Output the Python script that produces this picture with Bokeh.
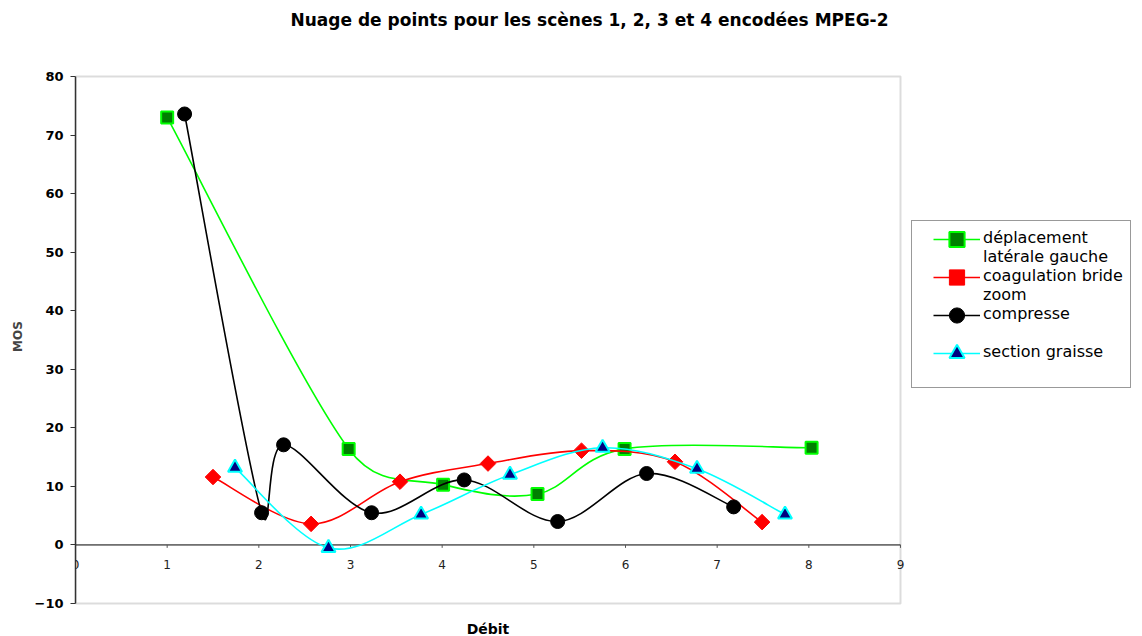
import numpy as np
from bokeh.plotting import figure
from bokeh.models import (Range1d, FixedTicker, Legend, LegendItem, ColumnDataSource,
                          LabelSet, Label, BoxAnnotation)
from bokeh.core.properties import value
from bokeh.embed import file_html
from bokeh.resources import INLINE

# ---------------- data ----------------
title_text = "Nuage de points pour les scènes 1, 2, 3 et 4 encodées MPEG-2"
x_label = "Débit"
y_label = "MOS"
x_ticks = [0, 1, 2, 3, 4, 5, 6, 7, 8, 9]
x_tick_labels = ["0", "1", "2", "3", "4", "5", "6", "7", "8", "9"]
y_ticks = [-10, 0, 10, 20, 30, 40, 50, 60, 70, 80]

green_name = ["déplacement", "latérale gauche"]
green_x = [1.00, 2.98, 4.01, 5.04, 5.99, 8.03]
green_y = [73.0, 16.4, 10.3, 8.7, 16.4, 16.6]

red_name = ["coagulation bride", "zoom"]
red_x = [1.50, 2.57, 3.54, 4.50, 5.52, 6.54, 7.49]
red_y = [11.6, 3.6, 10.8, 13.9, 16.1, 14.2, 3.9]

black_name = ["compresse", " "]
black_x = [1.19, 2.03, 2.27, 3.23, 4.24, 5.26, 6.23, 7.18]
black_y = [73.6, 5.5, 17.1, 5.5, 11.1, 4.0, 12.2, 6.5]

cyan_name = ["section graisse", " "]
cyan_x = [1.74, 2.76, 3.77, 4.74, 5.75, 6.78, 7.74]
cyan_y = [13.2, -0.5, 5.2, 12.0, 16.6, 13.0, 5.2]

# ---------------- layout (pixels) ----------------
W, H = 1142, 636
FRAME_T = 36                                         # top of the drawing frame
PLOT_L, PLOT_R, PLOT_T, PLOT_B = 75, 900, 76, 603   # plot-area box on the page
LEG_L, LEG_B = 911, 388                              # legend box left / bottom
SWATCH_L, SWATCH_W = 933, 47                         # legend line swatch
LABEL_L = 982                                        # legend text start
X0, X1 = x_ticks[0], x_ticks[-1]
Y0, Y1 = y_ticks[0], y_ticks[-1]
SX = (PLOT_R - PLOT_L) / (X1 - X0)   # px per x unit
SY = (PLOT_B - PLOT_T) / (Y1 - Y0)   # px per y unit
FONT = "DejaVu Sans"

p = figure(width=W, height=H, output_backend="svg", toolbar_location=None,
           x_axis_location=None,
           x_range=Range1d(X0, X1 + (W - PLOT_R) / SX),
           y_range=Range1d(Y0 - (H - PLOT_B) / SY, Y1 + (PLOT_T - FRAME_T) / SY),
           min_border_left=PLOT_L, min_border_right=0,
           min_border_top=FRAME_T, min_border_bottom=0)
p.background_fill_color = "white"
p.border_fill_color = "white"
p.outline_line_color = None
p.xgrid.visible = False
p.ygrid.visible = False

p.title.text = title_text
p.title.align = "left"
p.title.offset = 215
p.title.standoff = 14
p.title.text_font = FONT
p.title.text_font_size = "17px"
p.title.text_font_style = "bold"
p.title.text_color = "black"

# plot-area frame
p.add_layout(BoxAnnotation(left=X0, right=X1, bottom=Y0, top=Y1, fill_color=None,
                           line_color="#8c8c8c", line_width=2, level="underlay"))

# y axis
p.yaxis.bounds = (Y0, Y1)
p.yaxis.ticker = FixedTicker(ticks=y_ticks)
p.yaxis.minor_tick_line_color = None
p.yaxis.major_tick_out = 5
p.yaxis.major_tick_in = 0
p.yaxis.major_tick_line_color = "#333333"
p.yaxis.axis_line_color = "#333333"
p.yaxis.axis_line_width = 1.5
p.yaxis.major_label_standoff = 7
p.yaxis.major_label_text_font = FONT
p.yaxis.major_label_text_font_size = "13px"
p.yaxis.major_label_text_font_style = "bold"
p.yaxis.major_label_text_color = "black"
p.yaxis.axis_label = y_label
p.yaxis.axis_label_text_font = FONT
p.yaxis.axis_label_text_font_size = "12px"
p.yaxis.axis_label_text_font_style = "bold"
p.yaxis.axis_label_standoff = 7

# x axis drawn on y = 0
p.segment(x0=[X0], y0=[0], x1=[X1], y1=[0], line_color="black", line_width=1)
p.segment(x0=x_ticks, y0=[0] * len(x_ticks), x1=x_ticks, y1=[-0.5] * len(x_ticks),
          line_color="#555555", line_width=1)
tick_src = ColumnDataSource(dict(x=x_ticks, y=[0] * len(x_ticks), t=x_tick_labels))
p.add_layout(LabelSet(x="x", y="y", text="t", source=tick_src, y_offset=-20,
                      text_align="center", text_baseline="middle",
                      text_font=value(FONT), text_font_size="12px",
                      text_color="#222222"))
p.add_layout(Label(x=(X0 + X1) / 2, y=Y0, y_offset=-25, text=x_label,
                   text_align="center", text_baseline="middle", text_font=FONT,
                   text_font_size="14px", text_font_style="bold", text_color="black"))


# ---------------- smoothed lines (Excel-like bezier) ----------------
def smooth(xs, ys):
    P = np.column_stack([np.asarray(xs, float) * SX, np.asarray(ys, float) * SY])
    n = len(P)
    out = {k: [] for k in ("x0", "y0", "x1", "y1", "cx0", "cy0", "cx1", "cy1")}
    for i in range(n - 1):
        p1, p2 = P[i], P[i + 1]
        p0 = P[i - 1] if i > 0 else p1
        p3 = P[i + 2] if i + 2 < n else p2
        d02 = np.linalg.norm(p2 - p0)
        d12 = np.linalg.norm(p2 - p1)
        d13 = np.linalg.norm(p3 - p1)
        f0 = 1 / 6 if d02 / 6 < d12 / 2 else d12 / 2 / d02
        f3 = 1 / 6 if d13 / 6 < d12 / 2 else d12 / 2 / d13
        c1 = p1 + (p2 - p0) * f0
        c2 = p2 - (p3 - p1) * f3
        out["x0"].append(p1[0] / SX); out["y0"].append(p1[1] / SY)
        out["x1"].append(p2[0] / SX); out["y1"].append(p2[1] / SY)
        out["cx0"].append(c1[0] / SX); out["cy0"].append(c1[1] / SY)
        out["cx1"].append(c2[0] / SX); out["cy1"].append(c2[1] / SY)
    return ColumnDataSource(out)


LW = 1.6
series = [
    (green_name, green_x, green_y, "#00ff00", dict(marker="square", size=12, fill_color="#008000",
                                                   line_color="#00ff00", line_width=2)),
    (red_name, red_x, red_y, "#ff0000", dict(marker="square", size=11, angle=np.pi / 4,
                                             fill_color="#ff0000", line_color="#ff0000", line_width=1)),
    (black_name, black_x, black_y, "#000000", dict(marker="circle", size=14, fill_color="#000000",
                                                   line_color="#000000", line_width=1)),
    (cyan_name, cyan_x, cyan_y, "#00ffff", dict(marker="triangle", size=14, fill_color="#000080",
                                                line_color="#00ffff", line_width=2)),
]

text_items, glyph_items = [], []
blank = p.line(x=[], y=[], line_alpha=0)
for name, xs, ys, col, mk in series:
    p.bezier(x0="x0", y0="y0", x1="x1", y1="y1", cx0="cx0", cy0="cy0", cx1="cx1", cy1="cy1",
             source=smooth(xs, ys), line_color=col, line_width=LW)
    sc = p.scatter(x=xs, y=ys, **mk)
    # single-point line: draws nothing in the plot, only provides the legend line swatch
    leg_line = p.line(x=xs[:1], y=ys[:1], line_color=col, line_width=LW)
    text_items.append(LegendItem(label=name[0], renderers=[blank]))
    text_items.append(LegendItem(label=name[1], renderers=[blank]))
    glyph_items.append(LegendItem(label=" ", renderers=[leg_line, sc]))

PAD, ROW, STANDOFF = 7, 19, 4
leg_h = 2 * PAD + ROW * len(text_items)
leg_top = LEG_B - leg_h
first_row_c = leg_top + PAD + ROW / 2
# borderless legend has no padding: each swatch row spans two text rows
glyph_top = first_row_c - ROW
glyph_bottom = glyph_top + 2 * ROW * len(glyph_items)

common = dict(margin=0, spacing=0, label_standoff=STANDOFF,
              label_text_font=FONT, label_text_font_size="16px", label_text_color="black")
legend_text = Legend(items=text_items, location=(LEG_L - PLOT_L, H - LEG_B),
                     padding=PAD, label_height=ROW, glyph_height=ROW,
                     glyph_width=LABEL_L - LEG_L - PAD - STANDOFF,
                     border_line_color="#333333", border_line_width=1,
                     background_fill_color="white", background_fill_alpha=1, **common)
legend_glyph = Legend(items=glyph_items, location=(SWATCH_L - PLOT_L, H - glyph_bottom),
                      padding=0, label_height=2 * ROW, glyph_height=2 * ROW,
                      glyph_width=SWATCH_W,
                      border_line_color=None, background_fill_alpha=0, **common)
p.add_layout(legend_text)
p.add_layout(legend_glyph)

open("out.html", "w").write(file_html(p, INLINE))
